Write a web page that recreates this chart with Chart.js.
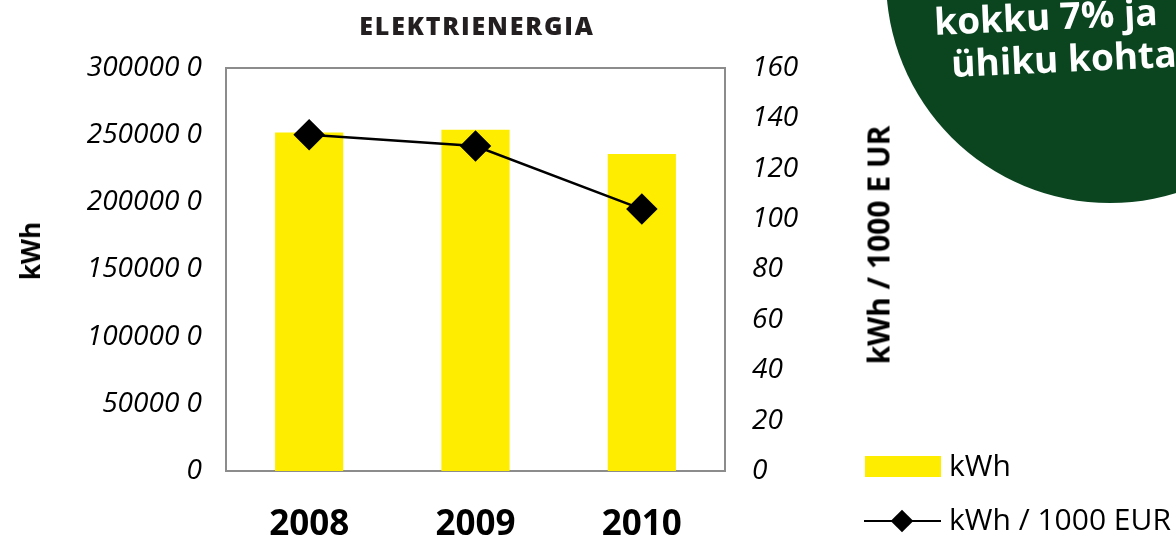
<!DOCTYPE html>
<html>
<head>
<meta charset="utf-8">
<script src="https://cdn.jsdelivr.net/npm/chart.js@4"></script>
<style>
  html, body { margin:0; padding:0; background:#fff; }
  body { width:1176px; height:544px; overflow:hidden; position:relative; font-family:"Open Sans", sans-serif; }
  #c { position:absolute; left:0; top:0; }
  .abs { position:absolute; white-space:nowrap; }
  #circle { left:886px; top:-245px; width:448px; height:448px; border-radius:50%; background:#0a4520; }
  .ctext { color:#fff; font-weight:700; font-size:37px; line-height:1; transform-origin:0 100%; transform:rotate(-2.6deg); }
  #title { left:477px; top:25px; transform:translate(-50%,-50%); font-weight:800; font-size:25px; letter-spacing:1.8px; color:#231f20; }
  #ltitle { left:30px; top:251px; transform:translate(-50%,-50%) rotate(-90deg); font-weight:700; font-size:26px; color:#000; }
  #rtitle { left:878px; top:245px; transform:translate(-50%,-50%) rotate(-90deg); font-weight:700; font-size:30px; color:#000; }
  .ltxt { font-size:30px; color:#000; line-height:1; }
</style>
</head>
<body>
<canvas id="c" width="1176" height="544"></canvas>
<div id="circle" class="abs"></div>
<div class="abs ctext" style="left:935px; top:2px;">kokku 7% ja</div>
<div class="abs ctext" style="left:952px; top:44px;">ühiku kohta</div>
<div id="title" class="abs">ELEKTRIENERGIA</div>
<div id="ltitle" class="abs">kWh</div>
<div id="rtitle" class="abs">kWh / 1000 E UR</div>
<div class="abs" style="left:865px; top:456px; width:76px; height:21px; background:#FFED00;"></div>
<div class="abs ltxt" style="left:949px; top:450px;">kWh</div>
<div class="abs" style="left:864px; top:520px; width:77px; height:2px; background:#000;"></div>
<div class="abs" style="left:894px; top:513px; width:16px; height:16px; background:#000; transform:rotate(45deg);"></div>
<div class="abs ltxt" style="left:949px; top:504px;">kWh / 1000 EUR</div>

<script>
const categories = ['2008', '2009', '2010'];
const kwhValues = [2520000, 2540000, 2360000];
const kwhPer1000Eur = [133.5, 129, 104];
const leftTickLabels = ['0', '50000 0', '100000 0', '150000 0', '200000 0', '250000 0', '300000 0'];
const rightTickLabels = ['0', '20', '40', '60', '80', '100', '120', '140', '160'];

const boxPlugin = {
  id: 'plotBox',
  beforeDatasetsDraw(chart) {
    const a = chart.chartArea;
    const ctx = chart.ctx;
    ctx.save();
    ctx.strokeStyle = '#8c8c8c';
    ctx.lineWidth = 2;
    ctx.strokeRect(a.left, a.top, a.right - a.left, a.bottom - a.top);
    ctx.restore();
  }
};

const tickFont = { family: '"Open Sans", sans-serif', size: 28, style: 'italic' };

new Chart(document.getElementById('c'), {
  data: {
    labels: categories,
    datasets: [
      {
        type: 'line',
        label: 'kWh / 1000 EUR',
        data: kwhPer1000Eur,
        yAxisID: 'y1',
        borderColor: '#000',
        borderWidth: 2.5,
        pointStyle: 'rectRot',
        pointRadius: 14,
        pointBackgroundColor: '#000',
        pointBorderColor: '#000',
        tension: 0,
        order: 0
      },
      {
        type: 'bar',
        label: 'kWh',
        data: kwhValues,
        yAxisID: 'y',
        backgroundColor: '#FFED00',
        categoryPercentage: 1,
        barPercentage: 0.41,
        order: 1
      }
    ]
  },
  options: {
    responsive: false,
    animation: false,
    layout: { padding: { left: 0, right: 331, top: 68, bottom: 0 } },
    plugins: { legend: { display: false }, tooltip: { enabled: false }, title: { display: false } },
    scales: {
      x: {
        grid: { display: false, drawTicks: false },
        border: { display: false },
        ticks: { padding: 33, color: '#000', font: { family: '"Open Sans", sans-serif', size: 35, weight: 'bold' } },
        afterFit(s) { s.height = 73; }
      },
      y: {
        position: 'left',
        min: 0, max: 3000000,
        grid: { display: false, drawTicks: false },
        border: { display: false },
        ticks: {
          stepSize: 500000, padding: 24, color: '#000', font: tickFont,
          callback: (v, i) => leftTickLabels[i]
        },
        afterFit(s) { s.width = 226; }
      },
      y1: {
        position: 'right',
        min: 0, max: 160,
        grid: { display: false, drawTicks: false },
        border: { display: false },
        ticks: {
          stepSize: 20, padding: 27, color: '#000', font: tickFont,
          callback: (v, i) => rightTickLabels[i]
        },
        afterFit(s) { s.width = 120; }
      }
    }
  },
  plugins: [boxPlugin]
});
</script>
</body>
</html>
